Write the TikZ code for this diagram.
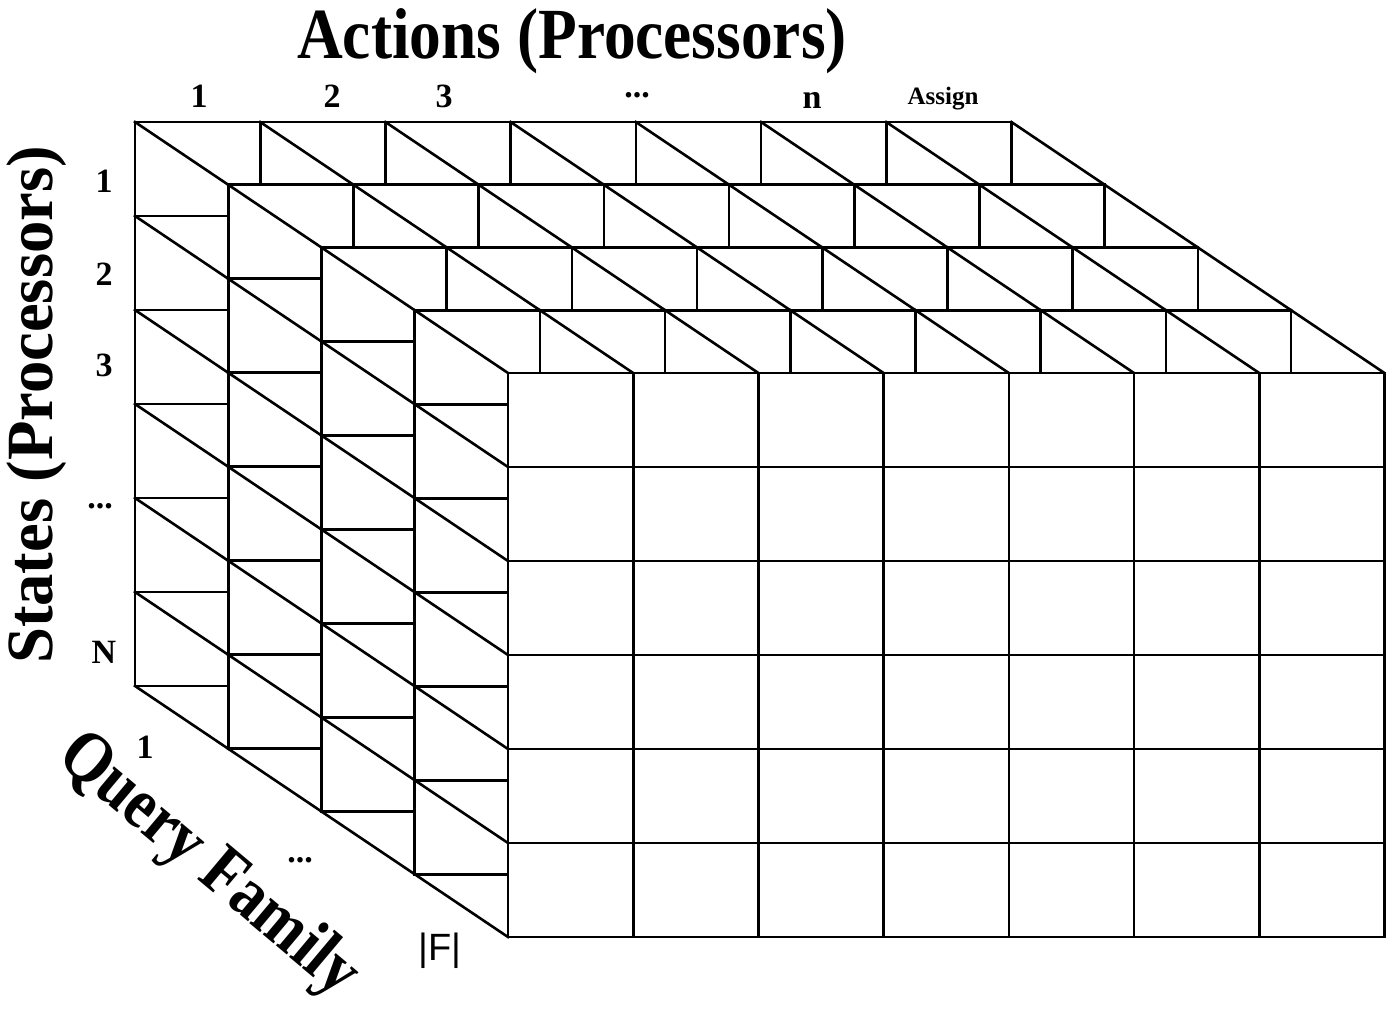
\documentclass[tikz,border=0pt]{standalone}
\usepackage{fontspec}
\setmainfont{Liberation Serif}
\newfontfamily\sansF{Liberation Sans}
\begin{document}
\begin{tikzpicture}[x=0.5pt,y=-0.5pt, line width=1.3pt, line join=miter, line cap=rect,
  lbl/.style={font=\bfseries\fontsize{17}{17}\selectfont, inner sep=0pt, anchor=base},
  big/.style={font=\bfseries\fontsize{36}{36}\selectfont, inner sep=0pt}]
\useasboundingbox (0,0) rectangle (1399,1013);
\def\dx{93.25}\def\dy{62.75}\def\cw{125.2}\def\rh{94}
\foreach \k in {0,...,4}{
  \pgfmathsetmacro{\ox}{135+\dx*\k}
  \pgfmathsetmacro{\oy}{122+\dy*\k}
  \ifnum\k>0
    \foreach \i in {0,...,7}{\draw (\ox-\dx+\i*\cw, \oy-\dy) -- ++(\dx,\dy);}
    \foreach \j in {1,...,6}{\draw (\ox-\dx, \oy-\dy+\j*\rh) -- ++(\dx,\dy);}
  \fi
  \fill[white] (\ox,\oy) rectangle ++(7*\cw,6*\rh);
  \foreach \i in {0,...,7}{\draw (\ox+\i*\cw,\oy) -- ++(0,6*\rh);}
  \foreach \j in {0,...,6}{\draw (\ox,\oy+\j*\rh) -- ++(7*\cw,0);}
}
% titles
\node[big, xscale=0.88] (title) at (572,41) {Actions (Processors)};
\node[big, font=\bfseries\fontsize{33}{33}\selectfont, rotate=90, xscale=0.98] (states) at (37,405) {States (Processors)};
\node[big, rotate=-40, xscale=0.86] (query) at (208,866) {Query Family};
% column labels
\node[lbl] (c1) at (199,107) {1};
\node[lbl] (c2) at (332,107) {2};
\node[lbl] (c3) at (444,107) {3};
\node[lbl] (cd) at (637,97) {...};
\node[lbl] (cn) at (812,108) {n};
\node[lbl, font=\bfseries\fontsize{12.5}{12.5}\selectfont] (cassign) at (943,104) {Assign};
% row labels
\node[lbl] (r1) at (104,192) {1};
\node[lbl] (r2) at (104,285) {2};
\node[lbl] (r3) at (104,376) {3};
\node[lbl] (rd) at (100,508) {...};
\node[lbl] (rN) at (104,663) {N};
% depth labels
\node[lbl] (q1) at (145,758) {1};
\node[lbl] (qd) at (300,862) {...};
\node[lbl, font=\sansF\fontsize{19}{19}\selectfont] (qF) at (440,960) {|F|};
\end{tikzpicture}
\end{document}
